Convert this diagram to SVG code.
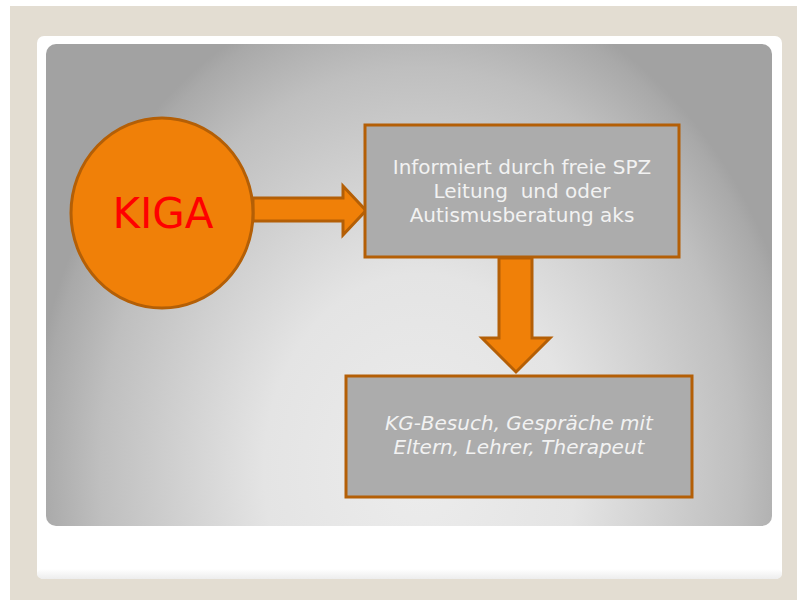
<svg xmlns="http://www.w3.org/2000/svg" width="797" height="600" viewBox="0 0 797 600">
  <defs>
    <radialGradient id="panelGrad" gradientUnits="userSpaceOnUse" cx="420" cy="470" r="1" gradientTransform="translate(420 470) scale(390 490) translate(-420 -470)">
      <stop offset="0" stop-color="#ececec"/>
      <stop offset="0.4" stop-color="#e4e4e4"/>
      <stop offset="0.82" stop-color="#bfbfbf"/>
      <stop offset="0.97" stop-color="#a9a9a9"/>
      <stop offset="1" stop-color="#a2a2a2"/>
    </radialGradient>
    <linearGradient id="cardShade" x1="0" y1="0" x2="0" y2="1">
      <stop offset="0" stop-color="#ffffff"/>
      <stop offset="1" stop-color="#ededed"/>
    </linearGradient>
    <style>
      .orange { fill: #f08008; stroke: #b45f06; stroke-width: 3; stroke-linejoin: miter; }
      .box { fill: #acacac; stroke: #b45f06; stroke-width: 3; }
      .boxtext { font-family: "DejaVu Sans", Verdana, sans-serif; font-size: 20px; fill: #f2f2f2; text-anchor: middle; }
    </style>
  </defs>

  <rect x="0" y="0" width="797" height="600" fill="#ffffff"/>
  <rect x="10" y="6" width="787" height="594" fill="#e3ddd2"/>

  <rect x="37" y="36" width="745" height="543" rx="7" fill="#ffffff"/>
  <rect x="37" y="569" width="745" height="10" rx="6" fill="url(#cardShade)"/>
  <rect x="46" y="44" width="726" height="482" rx="10" fill="url(#panelGrad)"/>

  <g id="connectors">
    <path class="orange" d="M253,198 L343,198 L343,186 L366,210.5 L343,235 L343,221 L253,221 Z"/>
    <path class="orange" d="M499,258 L532,258 L532,338 L550,338 L516,372 L482,338 L499,338 Z"/>
  </g>

  <g id="kiga">
    <ellipse class="orange" cx="162" cy="213" rx="91" ry="95"/>
    <text x="163" y="228" font-family="DejaVu Sans, Verdana, sans-serif" font-size="42" fill="#ff0000" text-anchor="middle">KIGA</text>
  </g>

  <g id="info">
    <rect class="box" x="365" y="125" width="314" height="132"/>
    <text class="boxtext" x="522" y="174">Informiert durch freie SPZ</text>
    <text class="boxtext" x="522" y="198" xml:space="preserve">Leitung  und oder</text>
    <text class="boxtext" x="522" y="222">Autismusberatung aks</text>
  </g>

  <g id="besuch">
    <rect class="box" x="346" y="376" width="346" height="121"/>
    <text class="boxtext" x="519" y="430" font-style="italic">KG-Besuch, Gespräche mit</text>
    <text class="boxtext" x="519" y="454" font-style="italic">Eltern, Lehrer, Therapeut</text>
  </g>
</svg>
